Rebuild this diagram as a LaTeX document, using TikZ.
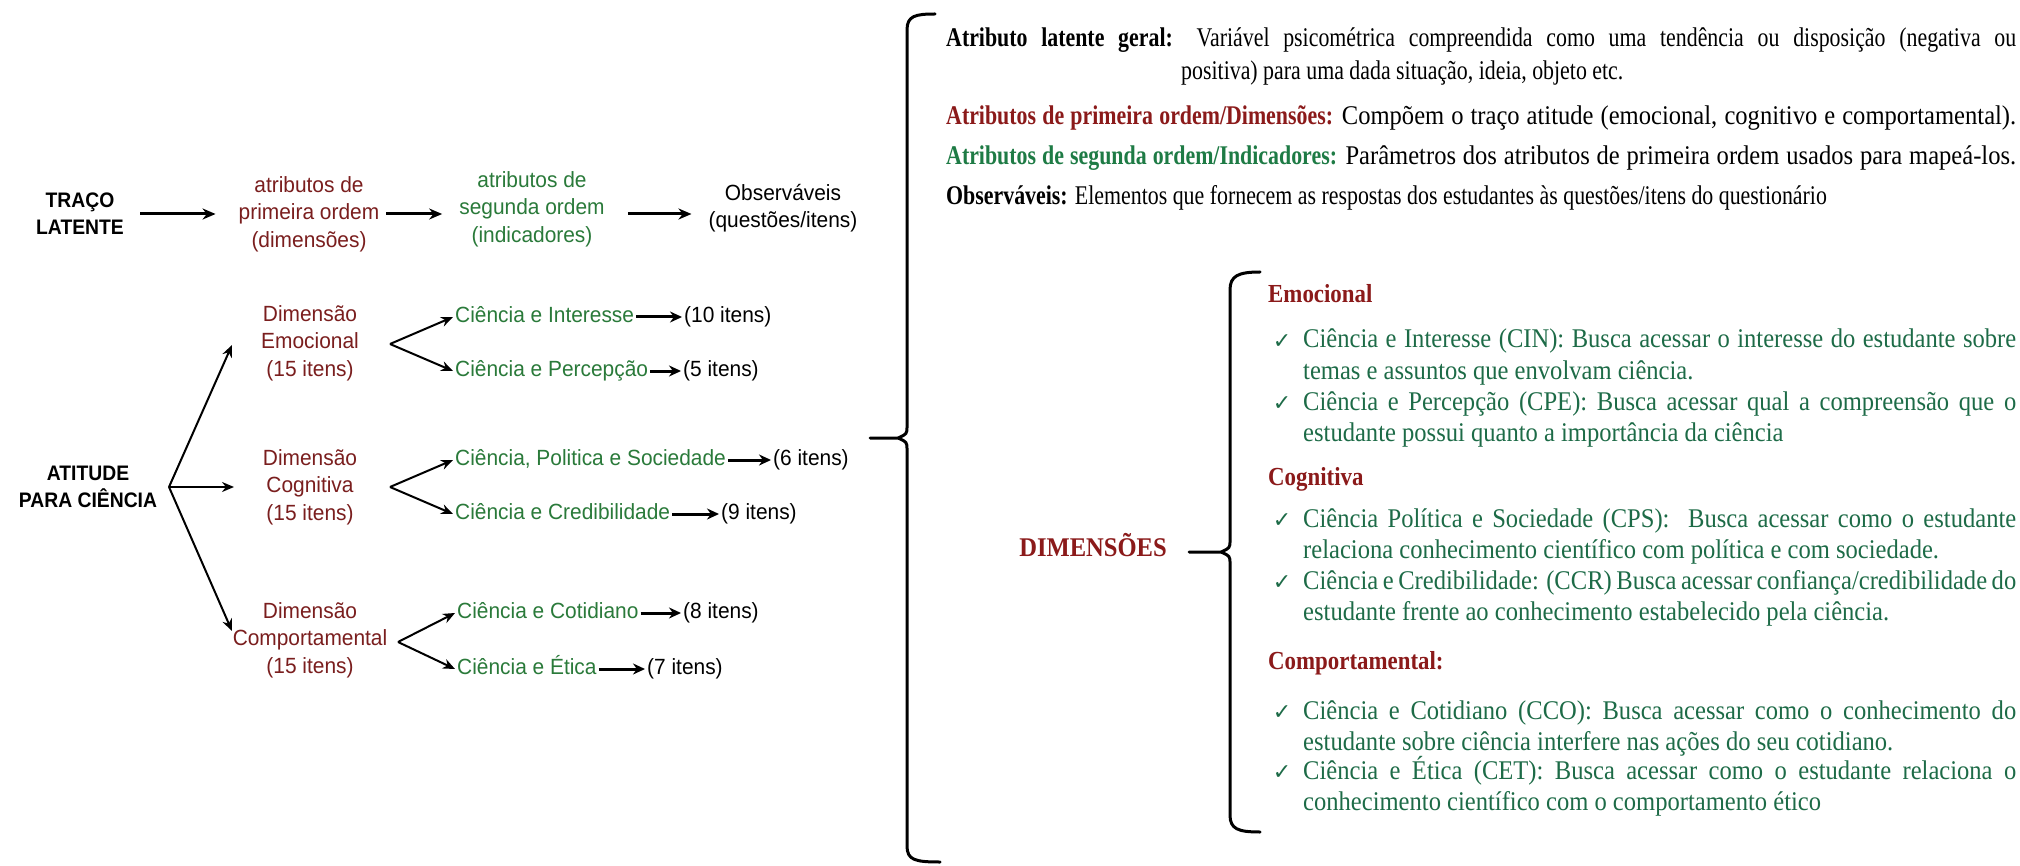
\documentclass[tikz,border=0pt]{standalone}
\usepackage{fontspec}
\setmainfont{Liberation Serif}
\newfontfamily\lsans[FakeStretch=0.95]{Liberation Sans}
\newfontfamily\lsansb[FakeStretch=0.92]{Liberation Sans}
\newfontfamily\rserif[FakeStretch=0.91]{Liberation Serif}
\newfontfamily\rtop[FakeStretch=0.81]{Liberation Serif}
\newfontfamily\rhead[FakeStretch=0.88]{Liberation Serif}
\newfontfamily\symf{DejaVu Sans}
\usetikzlibrary{arrows.meta}
\definecolor{dred}{HTML}{8B1A1A}
\definecolor{lred}{HTML}{7A1E1E}
\definecolor{dgreen}{HTML}{1E7B45}
\definecolor{lgreen}{HTML}{2A7A3A}
\definecolor{tgreen}{HTML}{1D6B47}
\newcommand{\jl}[2]{\makebox[#1pt][s]{#2}}
\begin{document}
\begin{tikzpicture}[x=1pt,y=-1pt,
  lt/.style={font=\lsans\fontsize{22}{27.5}\selectfont, align=center, inner sep=1pt},
  ltb/.style={font=\lsansb\bfseries\fontsize{21}{27}\selectfont, align=center, inner sep=1pt},
  item/.style={font=\lsans\fontsize{22}{27}\selectfont, anchor=west, inner sep=2pt, text height=16pt, text depth=5pt},
  arrA/.style={-{Stealth[length=13pt,width=11pt]}, line width=3pt},
  arrF/.style={-{Stealth[length=12pt,width=10pt]}, line width=2pt},
  arrS/.style={-{Stealth[length=12pt,width=11pt]}, line width=3pt},
  rt/.style={font=\rserif\fontsize{27}{31}\selectfont, anchor=west, inner sep=0pt, text height=19pt, text depth=7pt},
  rtt/.style={rt, font=\rtop\fontsize{27}{31}\selectfont},
  rh/.style={rt, text=dred, font=\rhead\bfseries\fontsize{26}{31}\selectfont},
  chk/.style={font=\symf\fontsize{22}{24}\selectfont, text=tgreen, inner sep=0pt},
  brace/.style={line width=3pt, line cap=round, line join=round}]
\useasboundingbox[fill=white] (0,0) rectangle (2020,866);

% ---------- top row ----------
\node[ltb] (traco) at (80,214) {TRAÇO\\LATENTE};
\node[lt, text=lred] (prim) at (309,214) {atributos de\\primeira ordem\\(dimensões)};
\node[lt, text=lgreen] (seg) at (532,209) {atributos de\\segunda ordem\\(indicadores)};
\node[lt] (obs) at (783,208) {Observáveis\\(questões/itens)};
\draw[arrA] ([xshift=15pt]traco.east) -- ([xshift=-22pt]prim.west);
\draw[arrA] ([xshift=6pt]prim.east) -- ([shift={(-16pt,-5pt)}]seg.west);
\draw[arrA] ([shift={(22pt,-5pt)}]seg.east) -- ([shift={(-16pt,-6pt)}]obs.west);

% ---------- lower left ----------
\node[ltb] (att) at (88,487) {ATITUDE\\PARA CIÊNCIA};
\coordinate (fan) at (169,487);
\node[lt, text=lred] (demo) at (310,343) {Dimensão\\Emocional\\(15 itens)};
\node[lt, text=lred] (dcog) at (310,487) {Dimensão\\Cognitiva\\(15 itens)};
\node[lt, text=lred] (dcom) at (310,640) {Dimensão\\Comportamental\\(15 itens)};
\coordinate (demoIn) at (232,345);
\coordinate (dcogIn) at (234,487);
\coordinate (dcomIn) at (232,631);
\draw[arrF] (fan) -- (demoIn);
\draw[arrF] (fan) -- (dcogIn);
\draw[arrF] (fan) -- (dcomIn);

\node[item, text=lgreen] (cin) at (453,317) {Ciência e Interesse};
\node[item] (cin10) at (682,317) {(10 itens)};
\node[item, text=lgreen] (cpe) at (453,371) {Ciência e Percepção};
\node[item] (cpe5) at (681,371) {(5 itens)};
\node[item, text=lgreen] (cps) at (453,460) {Ciência, Politica e Sociedade};
\node[item] (cps6) at (771,460) {(6 itens)};
\node[item, text=lgreen] (ccr) at (453,514) {Ciência e Credibilidade};
\node[item] (ccr9) at (719,514) {(9 itens)};
\node[item, text=lgreen] (cco) at (455,613) {Ciência e Cotidiano};
\node[item] (cco8) at (681,613) {(8 itens)};
\node[item, text=lgreen] (cet) at (455,669) {Ciência e Ética};
\node[item] (cet7) at (645,669) {(7 itens)};

\coordinate (ve) at (390,344);
\coordinate (vc) at (390,487);
\coordinate (vp) at (398,642);
\draw[arrF] (ve) -- (cin.west);
\draw[arrF] (ve) -- (cpe.west);
\draw[arrF] (vc) -- (cps.west);
\draw[arrF] (vc) -- (ccr.west);
\draw[arrF] (vp) -- (cco.west);
\draw[arrF] (vp) -- (cet.west);

\draw[arrS] (cin) -- (cin10);
\draw[arrS] (cpe) -- (cpe5);
\draw[arrS] (cps) -- (cps6);
\draw[arrS] (ccr) -- (ccr9);
\draw[arrS] (cco) -- (cco8);
\draw[arrS] (cet) -- (cet7);

% ---------- big brace ----------
\draw[brace] (935,14) .. controls (915,14) and (907,16) .. (907,30) -- (907,426)
  .. controls (907,434) .. (898,438) -- (870,438)
  (898,438) .. controls (907,442) .. (907,450) -- (907,846)
  .. controls (907,860) and (915,862) .. (940,862);

% ---------- definitions ----------
\node[rtt] (l1) at (946,41) {\jl{1070}{\textbf{Atributo latente geral:} Variável psicométrica compreendida como uma tendência ou disposição (negativa ou}};
\node[rtt] (l2) at (1181,74) {positiva) para uma dada situação, ideia, objeto etc.};
\node[rtt] (l3) at (946,119) {\jl{1070}{\textbf{\color{dred}Atributos de primeira ordem/Dimensões:} {\rserif Compõem o traço atitude (emocional, cognitivo e comportamental).}}};
\node[rtt] (l4) at (946,159) {\jl{1070}{\textbf{\color{dgreen}Atributos de segunda ordem/Indicadores:} {\rserif Parâmetros dos atributos de primeira ordem usados para mapeá-los.}}};
\node[rtt] (l5) at (946,199) {\textbf{Observáveis:} Elementos que fornecem as respostas dos estudantes às questões/itens do questionário};

% ---------- dimensions ----------
\node[rt, anchor=center, text=dred, font=\rserif\bfseries\fontsize{27}{31}\selectfont] (dim) at (1093,550) {DIMENSÕES};
\draw[brace] (1260,272) .. controls (1238,272) and (1230,276) .. (1230,290) -- (1230,540)
  .. controls (1230,548) .. (1221,552) -- (1189,552)
  (1221,552) .. controls (1230,556) .. (1230,564) -- (1230,815)
  .. controls (1230,829) and (1238,832) .. (1260,832);

\node[rh] (hemo) at (1268,297) {Emocional};
\node[chk] (k1) at (1282,342) {✓};
\node[rt, text=tgreen] (e1a) at (1303,342) {\jl{713}{Ciência e Interesse (CIN): Busca acessar o interesse do estudante sobre}};
\node[rt, text=tgreen] (e1b) at (1303,373) {temas e assuntos que envolvam ciência.};
\node[chk] (k2) at (1282,404) {✓};
\node[rt, text=tgreen] (e2a) at (1303,404) {\jl{713}{Ciência e Percepção (CPE): Busca acessar qual a compreensão que o}};
\node[rt, text=tgreen] (e2b) at (1303,435) {estudante possui quanto a importância da ciência};

\node[rh] (hcog) at (1268,479) {Cognitiva};
\node[chk] (k3) at (1282,521) {✓};
\node[rt, text=tgreen] (c1a) at (1303,521) {\jl{713}{Ciência Política e Sociedade (CPS):\ \ Busca acessar como o estudante}};
\node[rt, text=tgreen] (c1b) at (1303,552) {relaciona conhecimento científico com política e com sociedade.};
\node[chk] (k4) at (1282,583) {✓};
\node[rt, text=tgreen] (c2a) at (1303,583) {\jl{713}{Ciência e Credibilidade: (CCR) Busca acessar confiança/credibilidade do}};
\node[rt, text=tgreen] (c2b) at (1303,614) {estudante frente ao conhecimento estabelecido pela ciência.};

\node[rh] (hcom) at (1268,663) {Comportamental:};
\node[chk] (k5) at (1282,713) {✓};
\node[rt, text=tgreen] (p1a) at (1303,713) {\jl{713}{Ciência e Cotidiano (CCO): Busca acessar como o conhecimento do}};
\node[rt, text=tgreen] (p1b) at (1303,744) {estudante sobre ciência interfere nas ações do seu cotidiano.};
\node[chk] (k6) at (1282,773) {✓};
\node[rt, text=tgreen] (p2a) at (1303,773) {\jl{713}{Ciência e Ética (CET): Busca acessar como o estudante relaciona o}};
\node[rt, text=tgreen] (p2b) at (1303,804) {conhecimento científico com o comportamento ético};
\end{tikzpicture}
\end{document}
